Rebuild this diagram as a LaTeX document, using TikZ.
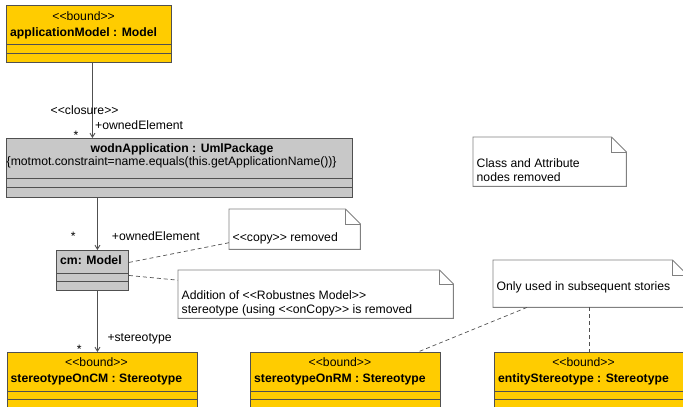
\documentclass[tikz,border=0pt]{standalone}
\usepackage{fontspec}
\setmainfont{Liberation Sans}[Ligatures=TeXOff]
\usetikzlibrary{arrows.meta}

\definecolor{boundyellow}{HTML}{FFCC00}
\definecolor{pkggray}{HTML}{C8C8C8}
\definecolor{boxgray}{HTML}{505050}
\definecolor{notegray}{HTML}{808080}

% two compartment lines below the name part of a box
\newcommand{\compartments}[3]{%
  \draw[boxgray, line width=0.9pt] ([yshift=-#2]#1.north west) -- ([yshift=-#2]#1.north east);
  \draw[boxgray, line width=0.9pt] ([yshift=-#3]#1.north west) -- ([yshift=-#3]#1.north east);
}
% note outline with the folded corner
\newcommand{\dogear}[2]{%
  \draw[notegray, line width=0.9pt] (#1.south west) -- (#1.north west) -- ([xshift=-#2]#1.north east)
    -- ([yshift=-#2]#1.north east) -- (#1.south east) -- cycle;
  \draw[notegray, line width=0.9pt] ([xshift=-#2]#1.north east) |- ([yshift=-#2]#1.north east);
}

\begin{document}
\begin{tikzpicture}[x=1pt, y=-1pt,
  font=\fontsize{12.2}{14}\selectfont,
  every node/.style={inner sep=0pt},
  umlbox/.style={draw=boxgray, line width=0.9pt, anchor=north west},
  boundbox/.style={umlbox, fill=boundyellow},
  pkgbox/.style={umlbox, fill=pkggray},
  notebox/.style={anchor=north west},
  boxname/.style={font=\fontsize{12.2}{14}\selectfont\bfseries},
  assoc/.style={boxgray, line width=0.9pt, -{Straight Barb[length=4pt,width=5pt]}},
  notelink/.style={boxgray, line width=0.7pt, dash pattern=on 4pt off 3pt}]
\useasboundingbox (0,0) rectangle (683,407);
\clip (0,0) rectangle (683,407);

% boxes
\node[boundbox, minimum width=165, minimum height=57] (appModel) at (6,5) {};
\compartments{appModel}{39}{48}
\node[boxname, anchor=base west] (appModelName) at ([xshift=4,yshift=-31.5]appModel.north west) {applicationModel : Model};
\node[anchor=base] (appModelSt) at ([yshift=16]appModelName.base) {<<bound>>};

\node[pkgbox, minimum width=346, minimum height=59] (wodnApp) at (6,138) {};
\compartments{wodnApp}{40}{49}
\node[boxname, anchor=base] (wodnAppName) at ([xshift=2.5,yshift=-14.7]wodnApp.north) {wodnApplication : UmlPackage};
\node[anchor=base west] (wodnAppCons) at ([xshift=0.5,yshift=-27.7]wodnApp.north west) {\{motmot.constraint=name.equals(this.getApplicationName())\}};

\node[pkgbox, minimum width=72, minimum height=40] (cm) at (56,250) {};
\compartments{cm}{23}{31}
\node[boxname, anchor=base west] (cmName) at ([xshift=4,yshift=-14.3]cm.north west) {cm: Model};

\node[boundbox, minimum width=190, minimum height=60] (stCM) at (7,352) {};
\compartments{stCM}{39}{47}
\node[boxname, anchor=base west] (stCMName) at ([xshift=3.5,yshift=-30.3]stCM.north west) {stereotypeOnCM : Stereotype};
\node[anchor=base] (stCMSt) at ([yshift=16]stCMName.base) {<<bound>>};

\node[boundbox, minimum width=190, minimum height=60] (stRM) at (250,352) {};
\compartments{stRM}{39}{47}
\node[boxname, anchor=base west] (stRMName) at ([xshift=4,yshift=-30.3]stRM.north west) {stereotypeOnRM : Stereotype};
\node[anchor=base] (stRMSt) at ([yshift=16]stRMName.base) {<<bound>>};

\node[boundbox, minimum width=190, minimum height=60] (stEnt) at (494,352) {};
\compartments{stEnt}{39}{47}
\node[boxname, anchor=base west] (stEntName) at ([xshift=4,yshift=-30.3]stEnt.north west) {entityStereotype : Stereotype};
\node[anchor=base] (stEntSt) at ([yshift=16]stEntName.base) {<<bound>>};

% notes
\node[notebox, minimum width=131, minimum height=40,
  label={[anchor=base west, xshift=3.5, yshift=8.3]south west:{<<copy>> removed}}] (copyNote) at (229,209) {};
\dogear{copyNote}{15}
\node[notebox, minimum width=275, minimum height=48,
  label={[anchor=south west, align=left, xshift=3.5, yshift=2.5]south west:{Addition of <<Robustnes Model>>\\stereotype (using <<onCopy>> is removed}}] (robNote) at (178,270) {};
\dogear{robNote}{14}
\node[notebox, minimum width=153, minimum height=49,
  label={[anchor=south west, align=left, xshift=3.5, yshift=4.3]south west:{Class and Attribute\\nodes removed}}] (classNote) at (473,137) {};
\dogear{classNote}{15}
\node[notebox, minimum width=194, minimum height=47,
  label={[anchor=base west, xshift=3.5, yshift=17]south west:{Only used in subsequent stories}}] (onlyNote) at (493,260) {};
\dogear{onlyNote}{15}

% associations
\draw[assoc] ([xshift=3.5]appModel.south) -- ([xshift=3.5]appModel.south |- wodnApp.north);
\draw[assoc] ([xshift=5]cm.north |- wodnApp.south) -- ([xshift=5]cm.north);
\draw[assoc] ([xshift=5]cm.south) -- ([xshift=5]cm.south |- stCM.north);
\node[anchor=base west] (closureLbl) at (50.5,114.3) {<<closure>>};
\node[anchor=base west] (ownedLblA) at (95,129) {+ownedElement};
\node[anchor=base] (starA) at (76,139) {*};
\node[anchor=base west] (ownedLblB) at (111.7,240) {+ownedElement};
\node[anchor=base] (starB) at (73.3,240.5) {*};
\node[anchor=base west] (stereoLbl) at (107.3,341.7) {+stereotype};
\node[anchor=base] (starC) at (79.3,353) {*};

% note links
\draw[notelink] ([yshift=8]cm.east) -- ([yshift=-13.5]copyNote.west);
\draw[notelink] ([yshift=-5]cm.east) -- ([yshift=14]robNote.west);
\draw[notelink] ([xshift=34]onlyNote.south west) -- ([xshift=-23]stRM.north east);
\draw[notelink] (stEnt.north |- onlyNote.south) -- (stEnt.north);
\end{tikzpicture}
\end{document}
